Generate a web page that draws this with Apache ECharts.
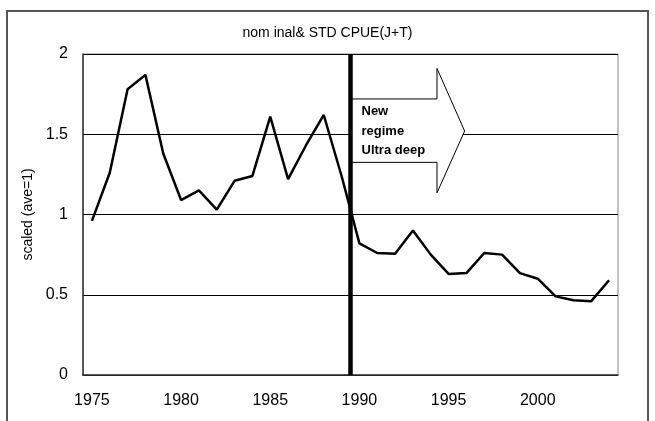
<!DOCTYPE html>
<html>
<head>
<meta charset="utf-8">
<title>nominal & STD CPUE(J+T)</title>
<script src="https://cdn.jsdelivr.net/npm/echarts@6/dist/echarts.min.js"></script>
<style>
    html, body { margin: 0; padding: 0; background: #fff; }
    .chart { width: 655px; height: 421px; }
</style>
</head>
<body>
<div class="chart"></div>
<script>
// data
let years = ['1975', '1976', '1977', '1978', '1979', '1980', '1981', '1982', '1983', '1984',
    '1985', '1986', '1987', '1988', '1989', '1990', '1991', '1992', '1993', '1994',
    '1995', '1996', '1997', '1998', '1999', '2000', '2001', '2002', '2003', '2004'];
let cpue = [0.96, 1.26, 1.78, 1.87, 1.38, 1.09, 1.15, 1.03, 1.21, 1.24,
    1.61, 1.22, 1.43, 1.62, 1.24, 0.82, 0.76, 0.755, 0.90, 0.75,
    0.63, 0.635, 0.76, 0.75, 0.635, 0.60, 0.49, 0.466, 0.46, 0.59];
let yTicks = [0, 0.5, 1, 1.5, 2];
// regime change line + arrow (in year / value units)
let regimeYear = 1990;
let arrowX = [1990, 1994.85, 1994.85, 1996.4, 1994.85, 1994.85, 1990];
let arrowY = [1.72, 1.72, 1.91, 1.52, 1.135, 1.325, 1.325];
let arrowText = ['New', 'regime', 'Ultra deep'];

(function () {
    let font = '"Liberation Sans", Arial, sans-serif';
    let myChart = echarts.init(document.getElementsByClassName('chart')[0]);
    let option = {
        animation: false,
        textStyle: { fontFamily: font, color: '#000' },
        title: {
            text: 'nom inal& STD CPUE(J+T)',
            left: 'center',
            top: 26,
            padding: 0,
            textStyle: { fontSize: 14, fontWeight: 'normal', color: '#000', fontFamily: font }
        },
        graphic: [
            {
                type: 'rect',
                silent: true,
                z: -1,
                shape: { x: 7, y: 11, width: 641, height: 440 },
                style: { fill: 'none', stroke: '#555', lineWidth: 2 }
            }
        ],
        grid: {
            left: 83,
            right: 37,
            top: 54,
            bottom: 46,
            show: true,
            borderColor: '#888',
            borderWidth: 1
        },
        xAxis: [
            {
                type: 'category',
                data: years,
                boundaryGap: true,
                axisLine: { lineStyle: { color: '#333', width: 1.5 } },
                axisTick: { interval: 4, inside: true, length: 5, lineStyle: { color: '#333' } },
                axisLabel: { interval: 4, fontSize: 16, margin: 18, color: '#000', fontFamily: font },
                splitLine: { show: false }
            },
            {
                type: 'value',
                min: 1975,
                max: 2005,
                show: false
            }
        ],
        yAxis: {
            type: 'value',
            min: yTicks[0],
            max: yTicks[yTicks.length - 1],
            interval: yTicks[1] - yTicks[0],
            name: 'scaled (ave=1)',
            nameLocation: 'middle',
            nameGap: 44,
            nameTextStyle: { fontSize: 14, color: '#000', fontFamily: font },
            axisLine: { show: true, lineStyle: { color: '#333', width: 1.5 } },
            axisTick: { show: false },
            axisLabel: { fontSize: 16, margin: 15, color: '#000', fontFamily: font },
            splitLine: { lineStyle: { color: '#000', width: 1 } }
        },
        series: [
            {
                name: 'arrow',
                type: 'custom',
                xAxisIndex: 1,
                silent: true,
                z: 3,
                data: [[regimeYear, 1.5]],
                renderItem: function (params, api) {
                    let pts = arrowX.map(function (x, i) {
                        return api.coord([x, arrowY[i]]);
                    });
                    return {
                        type: 'group',
                        children: [
                            {
                                type: 'polygon',
                                shape: { points: pts },
                                style: { fill: '#fff', stroke: '#000', lineWidth: 1 }
                            },
                            {
                                type: 'text',
                                x: pts[0][0] + 11,
                                y: pts[0][1] + 3,
                                style: {
                                    text: arrowText.join('\n'),
                                    fill: '#000',
                                    font: 'bold 13px ' + font,
                                    lineHeight: 19.5,
                                    align: 'left',
                                    verticalAlign: 'top'
                                }
                            }
                        ]
                    };
                }
            },
            {
                name: 'CPUE',
                type: 'line',
                data: cpue,
                symbol: 'none',
                z: 4,
                lineStyle: { color: '#000', width: 2.5 }
            },
            {
                name: 'regime',
                type: 'line',
                xAxisIndex: 1,
                data: [[regimeYear, yTicks[0]], [regimeYear, yTicks[yTicks.length - 1]]],
                symbol: 'none',
                z: 5,
                lineStyle: { color: '#000', width: 4.5 }
            }
        ]
    };
    myChart.setOption(option);
    window.addEventListener('resize', function () {
        myChart.resize()
    })
})();
</script>
</body>
</html>
